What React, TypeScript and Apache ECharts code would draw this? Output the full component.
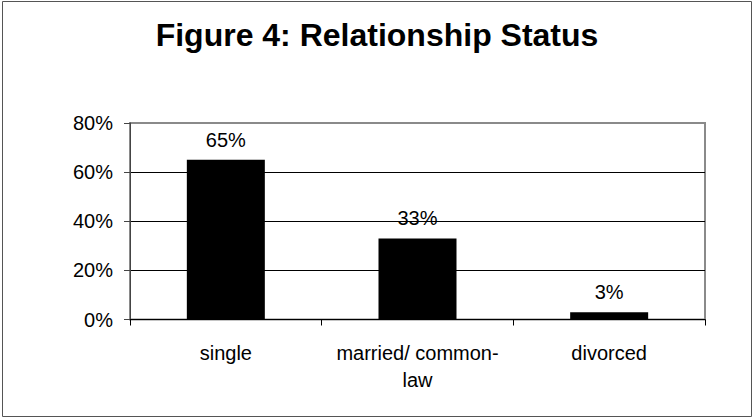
import React, { useEffect, useRef } from "react";
import * as echarts from "echarts";

const titleText = "Figure 4: Relationship Status";
const categories = ["single", "married/ common-\nlaw", "divorced"];
const percentValues = [65, 33, 3];
const yTicks = [0, 20, 40, 60, 80];

const FONT = "'Liberation Sans', Arial, Helvetica, sans-serif";

export default function App() {
  const ref = useRef<HTMLDivElement>(null);
  useEffect(() => {
    if (!ref.current) return;
    const chart = echarts.init(ref.current, null, { renderer: "svg" });
    chart.setOption({
      animation: false,
      backgroundColor: "#ffffff",
      textStyle: { fontFamily: FONT },
      title: {
        text: titleText,
        left: "center",
        top: 14,
        textStyle: { fontFamily: FONT, fontSize: 32, fontWeight: "bold", color: "#000" },
      },
      graphic: [
        {
          type: "rect",
          shape: { x: 2.5, y: 1.5, width: 749, height: 415 },
          style: { fill: "none", stroke: "#555", lineWidth: 1 },
          z: 100,
        },
      ],
      grid: {
        left: 130,
        right: 49,
        top: 123,
        bottom: 99.5,
        show: true,
        borderColor: "#8a8a8a",
        borderWidth: 2,
        backgroundColor: "transparent",
      },
      xAxis: {
        type: "category",
        data: categories,
        boundaryGap: true,
        axisLine: { show: true, lineStyle: { color: "#000", width: 1 } },
        axisTick: { show: true, alignWithLabel: false, length: 6, lineStyle: { color: "#000" } },
        axisLabel: {
          fontFamily: FONT,
          fontSize: 20,
          color: "#000",
          margin: 20,
          lineHeight: 27,
          interval: 0,
        },
        splitLine: { show: false },
      },
      yAxis: {
        type: "value",
        min: yTicks[0],
        max: yTicks[yTicks.length - 1],
        interval: 20,
        axisLine: { show: true, lineStyle: { color: "#444", width: 1 } },
        axisTick: { show: true, length: 6, lineStyle: { color: "#444" } },
        axisLabel: {
          formatter: "{value}%",
          fontFamily: FONT,
          fontSize: 20,
          color: "#000",
          margin: 17,
        },
        splitLine: {
          show: true,
          lineStyle: { color: ["#000", "#000", "#000", "#000", "#8a8a8a"], width: 1 },
        },
      },
      series: [
        {
          type: "bar",
          data: percentValues,
          barWidth: 78,
          itemStyle: { color: "#000" },
          label: {
            show: true,
            position: "top",
            distance: 10,
            formatter: "{c}%",
            fontFamily: FONT,
            fontSize: 20,
            color: "#000",
          },
        },
      ],
    });
    return () => chart.dispose();
  }, []);
  return (
    <div
      ref={ref}
      style={{ position: "fixed", left: 0, top: 0, width: 754, height: 419, background: "#fff" }}
    />
  );
}
